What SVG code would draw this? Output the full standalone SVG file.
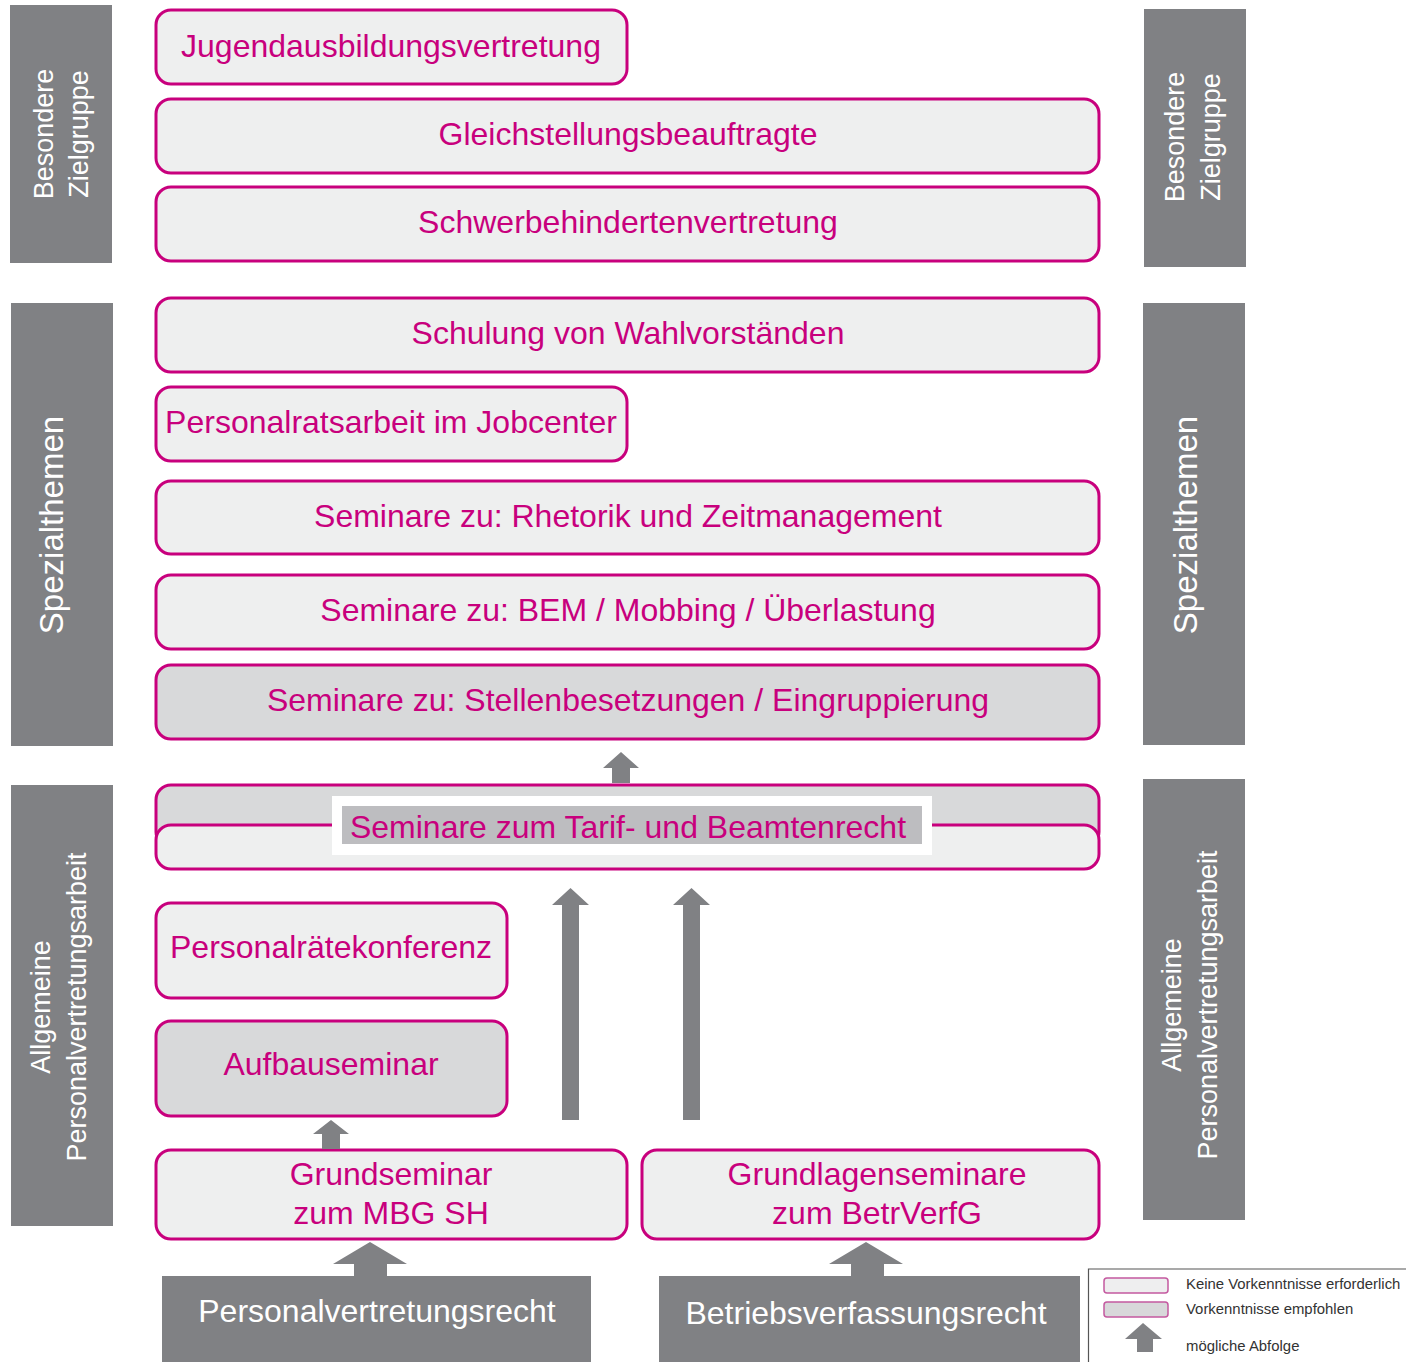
<svg xmlns="http://www.w3.org/2000/svg" width="1406" height="1362" viewBox="0 0 1406 1362">
<style>
.bar{fill:#808184}
.bt{fill:#fff;font-family:"Liberation Sans",Arial,Helvetica,sans-serif;text-anchor:middle}
.box{stroke:#c8007d;stroke-width:3;fill:#eeefef}
.box2{stroke:#c8007d;stroke-width:3;fill:#d8d9da}
.t{fill:#c8007d;font-family:"Liberation Sans",Arial,Helvetica,sans-serif;font-size:32px;text-anchor:middle}
.arr{fill:#808184}
.lg{fill:#333;font-family:"Liberation Sans",Arial,Helvetica,sans-serif;font-size:14.9px}
</style>
<rect width="1406" height="1362" fill="#fff"/>

<g id="bars-left">
<rect class="bar" x="10" y="5" width="102" height="258"/>
<text class="bt" font-size="27" x="53" y="134" transform="rotate(-90 53 134)">Besondere</text>
<text class="bt" font-size="27" x="88" y="134" transform="rotate(-90 88 134)">Zielgruppe</text>
<rect class="bar" x="11" y="303" width="102" height="443"/>
<text class="bt" font-size="33" x="63" y="525" transform="rotate(-90 63 525)">Spezialthemen</text>
<rect class="bar" x="11" y="785" width="102" height="441"/>
<text class="bt" font-size="27" x="50" y="1007" transform="rotate(-90 50 1007)">Allgemeine</text>
<text class="bt" font-size="27" x="86" y="1007" transform="rotate(-90 86 1007)">Personalvertretungsarbeit</text>
</g>

<g id="bars-right">
<rect class="bar" x="1144" y="9" width="102" height="258"/>
<text class="bt" font-size="27" x="1184" y="137" transform="rotate(-90 1184 137)">Besondere</text>
<text class="bt" font-size="27" x="1220" y="137" transform="rotate(-90 1220 137)">Zielgruppe</text>
<rect class="bar" x="1143" y="303" width="102" height="442"/>
<text class="bt" font-size="33" x="1197" y="525" transform="rotate(-90 1197 525)">Spezialthemen</text>
<rect class="bar" x="1143" y="779" width="102" height="441"/>
<text class="bt" font-size="27" x="1181" y="1005" transform="rotate(-90 1181 1005)">Allgemeine</text>
<text class="bt" font-size="27" x="1217" y="1005" transform="rotate(-90 1217 1005)">Personalvertretungsarbeit</text>
</g>

<g id="n-jugend"><rect class="box" x="156" y="10" width="471" height="74" rx="15"/><text class="t" x="391" y="57">Jugendausbildungsvertretung</text></g>
<g id="n-gleich"><rect class="box" x="156" y="99" width="943" height="74" rx="15"/><text class="t" x="628" y="145">Gleichstellungsbeauftragte</text></g>
<g id="n-schwer"><rect class="box" x="156" y="187" width="943" height="74" rx="15"/><text class="t" x="628" y="233">Schwerbehindertenvertretung</text></g>
<g id="n-wahl"><rect class="box" x="156" y="298" width="943" height="74" rx="15"/><text class="t" x="628" y="344">Schulung von Wahlvorständen</text></g>
<g id="n-jobcenter"><rect class="box" x="156" y="387" width="471" height="74" rx="15"/><text class="t" x="391" y="433">Personalratsarbeit im Jobcenter</text></g>
<g id="n-rhetorik"><rect class="box" x="156" y="481" width="943" height="73" rx="15"/><text class="t" x="628" y="527">Seminare zu: Rhetorik und Zeitmanagement</text></g>
<g id="n-bem"><rect class="box" x="156" y="575" width="943" height="74" rx="15"/><text class="t" x="628" y="621">Seminare zu: BEM / Mobbing / Überlastung</text></g>
<g id="n-stellen"><rect class="box2" x="156" y="665" width="943" height="74" rx="15"/><text class="t" x="628" y="711">Seminare zu: Stellenbesetzungen / Eingruppierung</text></g>

<g id="n-tarif">
<rect class="box2" x="156" y="785" width="943" height="62" rx="15" fill="#d9d9db"/>
<rect class="box" x="156" y="825" width="943" height="44" rx="15" fill="#e8e8e9"/>
<rect x="332" y="796" width="600" height="59" fill="#fff"/>
<rect x="342" y="806" width="580" height="38" fill="#bdbdc0"/>
<text class="t" x="628" y="838">Seminare zum Tarif- und Beamtenrecht</text>
</g>

<g id="n-konferenz"><rect class="box" x="156" y="903" width="351" height="95" rx="15"/><text class="t" x="331" y="958">Personalrätekonferenz</text></g>
<g id="n-aufbau"><rect class="box2" x="156" y="1021" width="351" height="95" rx="15"/><text class="t" x="331" y="1075">Aufbauseminar</text></g>
<g id="n-grundseminar"><rect class="box" x="156" y="1150" width="471" height="89" rx="15"/><text class="t" x="391" y="1185">Grundseminar</text><text class="t" x="391" y="1224">zum MBG SH</text></g>
<g id="n-grundlagen"><rect class="box" x="642" y="1150" width="457" height="89" rx="15"/><text class="t" x="877" y="1185">Grundlagenseminare</text><text class="t" x="877" y="1224">zum BetrVerfG</text></g>

<g id="n-pvr"><rect class="bar" x="162" y="1276" width="429" height="86"/><text class="bt" font-size="32" x="377" y="1322">Personalvertretungsrecht</text></g>
<g id="n-bvr"><rect class="bar" x="659" y="1276" width="421" height="86"/><text class="bt" font-size="32" x="866" y="1324">Betriebsverfassungsrecht</text></g>

<g id="connectors">
<polygon class="arr" points="621,752 639,768 630,768 630,783 612,783 612,768 603,768"/>
<polygon class="arr" points="570.5,888 589,905 579,905 579,1120 562,1120 562,905 552,905"/>
<polygon class="arr" points="691.5,888 710,905 700,905 700,1120 683,1120 683,905 673,905"/>
<polygon class="arr" points="331,1120 349,1134 340,1134 340,1149 322,1149 322,1134 313,1134"/>
<polygon class="arr" points="370,1242 407,1264 387,1264 387,1277 354,1277 354,1264 333,1264"/>
<polygon class="arr" points="866,1242 903,1264 884,1264 884,1277 851,1277 851,1264 829,1264"/>
</g>

<g id="legend">
<path d="M1406,1269 H1088.5 V1362" fill="none" stroke="#555" stroke-width="1.2"/>
<rect x="1104" y="1278" width="64" height="15" rx="3" fill="#eeeeef" stroke="#c45aa0" stroke-width="1.5"/>
<rect x="1104" y="1302" width="64" height="15" rx="3" fill="#d8d8da" stroke="#c45aa0" stroke-width="1.5"/>
<polygon class="arr" points="1143,1323 1162,1339 1153,1339 1153,1352 1137,1352 1137,1339 1125,1339"/>
<text class="lg" x="1186" y="1289">Keine Vorkenntnisse erforderlich</text>
<text class="lg" x="1186" y="1314">Vorkenntnisse empfohlen</text>
<text class="lg" x="1186" y="1351">mögliche Abfolge</text>
</g>
</svg>
